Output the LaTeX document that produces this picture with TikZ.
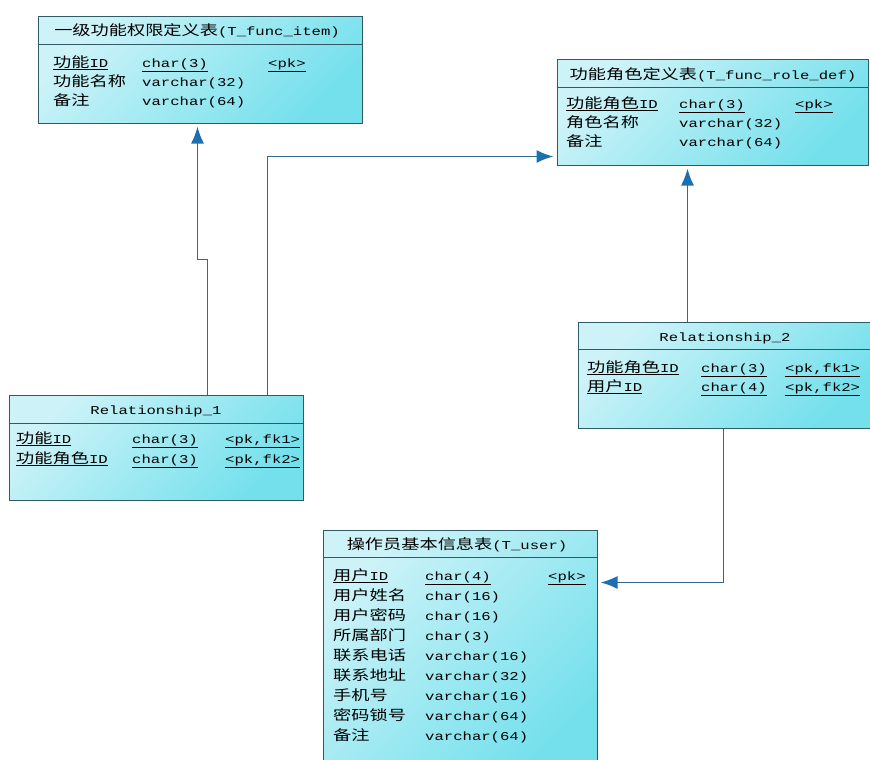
\documentclass[tikz,border=0pt]{standalone}
\usepackage{fontspec}
\setmainfont[FakeStretch=1.3]{Liberation Mono}
\newfontfamily\zhfont[FakeStretch=1.3]{Noto Sans CJK SC}
\newcommand{\zh}[1]{{\zhfont\fontsize{14}{15}\selectfont #1}}
\newcommand{\keyul}[1]{\underline{#1}}
\usetikzlibrary{arrows.meta, positioning}

\definecolor{tblborder}{HTML}{2F5A66}
\definecolor{tbllight}{HTML}{CDF3F8}
\definecolor{tbldark}{HTML}{74E0EC}
\definecolor{linkblue}{HTML}{33698A}
\definecolor{tipblue}{HTML}{1C6FB0}

\begin{document}
\begin{tikzpicture}[x=1pt, y=-1pt,
    tbl/.style={rectangle, draw=tblborder, line width=1pt, top color=tbllight, bottom color=tbldark, shading angle=45, inner sep=0pt},
    sepline/.style={draw=tblborder, line width=1pt},
    txt/.style={anchor=base west, inner sep=0pt, font=\fontsize{12}{14}\selectfont},
    ttl/.style={txt, anchor=base},
    link/.style={draw=linkblue, line width=1.8pt, shorten >=3pt, -{Latex[length=17pt,width=13pt,color=tipblue]}}]

    \useasboundingbox[fill=white] (0,0) rectangle (870,760);

    % tables
    \node [tbl, minimum width=324pt, minimum height=106pt] (item) at (200,70) {};
    \node [tbl, minimum width=311pt, minimum height=105pt] (roledef) at (712.5,112.5) {};
    \node [tbl, minimum width=294pt, minimum height=105pt] (rel1) at (156,447.5) {};
    \node [tbl, minimum width=296pt, minimum height=106pt] (rel2) at (726,375) {};
    \node [tbl, minimum width=274pt, minimum height=242pt] (user) at (460,651) {};

    \draw [sepline] ([yshift=-28pt]item.north west) -- ([yshift=-28pt]item.north east);
    \draw [sepline] ([yshift=-28pt]roledef.north west) -- ([yshift=-28pt]roledef.north east);
    \draw [sepline] ([yshift=-29pt]rel1.north west) -- ([yshift=-29pt]rel1.north east);
    \draw [sepline] ([yshift=-28pt]rel2.north west) -- ([yshift=-28pt]rel2.north east);
    \draw [sepline] ([yshift=-28pt]user.north west) -- ([yshift=-28pt]user.north east);

    % T_func_item
    \node [ttl] (item-title) at (197,36) {\zh{一级功能权限定义表}(T\_func\_item)};
    \node [txt] (item-n1) at (53,67) {\keyul{\zh{功能}ID}};
    \node [txt] (item-t1) at (142,67) {\keyul{char(3)}};
    \node [txt] (item-k1) at (268,67) {\keyul{<pk>}};
    \node [txt] (item-n2) at (53,86) {\zh{功能名称}};
    \node [txt] (item-t2) at (142,86) {varchar(32)};
    \node [txt] (item-n3) at (53,105) {\zh{备注}};
    \node [txt] (item-t3) at (142,105) {varchar(64)};

    % T_func_role_def
    \node [ttl] (roledef-title) at (713,79) {\zh{功能角色定义表}(T\_func\_role\_def)};
    \node [txt] (roledef-n1) at (566,108) {\keyul{\zh{功能角色}ID}};
    \node [txt] (roledef-t1) at (679,108) {\keyul{char(3)}};
    \node [txt] (roledef-k1) at (795,108) {\keyul{<pk>}};
    \node [txt] (roledef-n2) at (566,127) {\zh{角色名称}};
    \node [txt] (roledef-t2) at (679,127) {varchar(32)};
    \node [txt] (roledef-n3) at (566,146) {\zh{备注}};
    \node [txt] (roledef-t3) at (679,146) {varchar(64)};

    % Relationship_1
    \node [ttl] (rel1-title) at (156,414) {Relationship\_1};
    \node [txt] (rel1-n1) at (16,443) {\keyul{\zh{功能}ID}};
    \node [txt] (rel1-t1) at (132,443) {\keyul{char(3)}};
    \node [txt] (rel1-k1) at (225,443) {\keyul{<pk,fk1>}};
    \node [txt] (rel1-n2) at (16,463) {\keyul{\zh{功能角色}ID}};
    \node [txt] (rel1-t2) at (132,463) {\keyul{char(3)}};
    \node [txt] (rel1-k2) at (225,463) {\keyul{<pk,fk2>}};

    % Relationship_2
    \node [ttl] (rel2-title) at (725,341) {Relationship\_2};
    \node [txt] (rel2-n1) at (587,372) {\keyul{\zh{功能角色}ID}};
    \node [txt] (rel2-t1) at (701,372) {\keyul{char(3)}};
    \node [txt] (rel2-k1) at (785,372) {\keyul{<pk,fk1>}};
    \node [txt] (rel2-n2) at (587,391) {\keyul{\zh{用户}ID}};
    \node [txt] (rel2-t2) at (701,391) {\keyul{char(4)}};
    \node [txt] (rel2-k2) at (785,391) {\keyul{<pk,fk2>}};

    % T_user
    \node [ttl] (user-title) at (457,549) {\zh{操作员基本信息表}(T\_user)};
    \node [txt] (user-n1) at (333,580) {\keyul{\zh{用户}ID}};
    \node [txt] (user-t1) at (425,580) {\keyul{char(4)}};
    \node [txt] (user-k1) at (548,580) {\keyul{<pk>}};
    \foreach \fname/\ftype [count=\i from 2] in {用户姓名/char(16), 用户密码/char(16), 所属部门/char(3), 联系电话/varchar(16), 联系地址/varchar(32), 手机号/varchar(16), 密码锁号/varchar(64), 备注/varchar(64)} {
        \node [txt] (user-n\i) at (333,{580+20*(\i-1)}) {\zh{\fname}};
        \node [txt] (user-t\i) at (425,{580+20*(\i-1)}) {\ftype};
    }

    % references
    \draw [link] ([xshift=199pt]rel1.north west) -- ++(0,-135) -- ++(-10,0) -- ([xshift=160pt]item.south west);
    \draw [link] ([xshift=259pt]rel1.north west) |- ([yshift=-97pt]roledef.north west);
    \draw [link] ([xshift=110pt]rel2.north west) -- ([xshift=131pt]roledef.south west);
    \draw [link] ([xshift=146pt]rel2.south west) |- ([yshift=-53pt]user.north east);
\end{tikzpicture}
\end{document}
